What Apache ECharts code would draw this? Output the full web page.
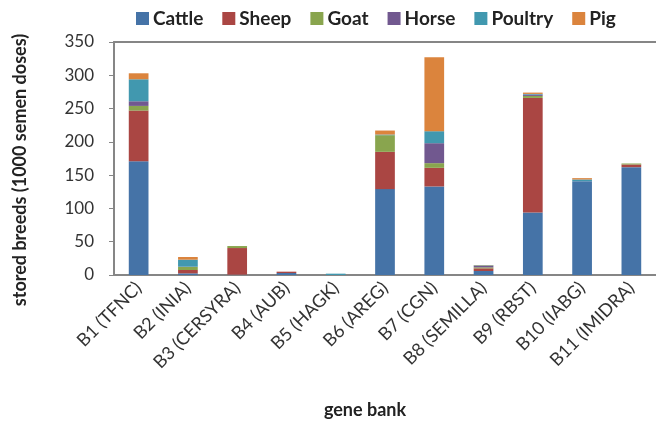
<!DOCTYPE html>
<html>
<head>
<meta charset="utf-8">
<title>stored breeds per gene bank</title>
<script src="https://cdn.jsdelivr.net/npm/echarts@6/dist/echarts.min.js"></script>
<style>
  html, body { margin: 0; padding: 0; background: #fff; }
  #chart { width: 656px; height: 423px; }
</style>
</head>
<body>
<div id="chart"></div>
<script>
// gene banks (x axis)
const banks = ['B1 (TFNC)', 'B2 (INIA)', 'B3 (CERSYRA)', 'B4 (AUB)', 'B5 (HAGK)', 'B6 (AREG)',
  'B7 (CGN)', 'B8 (SEMILLA)', 'B9 (RBST)', 'B10 (IABG)', 'B11 (IMIDRA)'];

// stored doses per species, 1000 semen doses
const cattle  = [171, 2.5, 0.5, 3, 0, 129, 133, 6, 94, 141, 162];
const sheep   = [76, 5, 40, 2, 0, 56, 28, 4, 172, 0, 4];
const goat    = [7, 4.5, 3, 0, 0, 25, 7, 1.5, 3, 0, 1.5];
const horse   = [7, 0.5, 0, 0, 0, 0, 30, 2, 2, 0, 0];
const poultry = [33, 10.5, 0, 0, 2, 1, 18, 1, 1, 2.5, 0];
const pig     = [9, 4, 0, 0, 0, 6, 111, 0.5, 2, 2, 0];

const yTicks = [0, 50, 100, 150, 200, 250, 300, 350];

const species = [
  { name: 'Cattle', data: cattle, color: '#4573a7' },
  { name: 'Sheep', data: sheep, color: '#aa4643' },
  { name: 'Goat', data: goat, color: '#89a54e' },
  { name: 'Horse', data: horse, color: '#71588f' },
  { name: 'Poultry', data: poultry, color: '#4198af' },
  { name: 'Pig', data: pig, color: '#db843d' },
];

const font = 'Lato';
const chart = echarts.init(document.getElementById('chart'), null, { renderer: 'canvas' });

const option = {
  animation: false,
  textStyle: { fontFamily: font },
  legend: {
    left: 131,
    top: 4,
    itemWidth: 13,
    itemHeight: 13,
    itemGap: 19,
    icon: 'rect',
    textStyle: { fontFamily: font, fontSize: 19, fontWeight: 'bold', color: '#222', padding: [0, 0, 0, -1] },
    data: species.map(s => s.name),
  },
  grid: { left: 114, right: -9, top: 42, bottom: 148, containLabel: false },
  xAxis: [
    {
      type: 'category',
      data: banks,
      axisLine: { lineStyle: { color: '#868686', width: 2 } },
      axisTick: { show: false },
      axisLabel: { rotate: 45, fontSize: 18, color: '#333', fontFamily: font, margin: 10, interval: 0 },
    },
    {
      // top frame line at 350
      type: 'category',
      data: banks,
      position: 'top',
      axisLine: { lineStyle: { color: '#868686', width: 2 } },
      axisTick: { show: false },
      axisLabel: { show: false },
    },
  ],
  yAxis: {
    type: 'value',
    min: yTicks[0],
    max: yTicks[yTicks.length - 1],
    interval: 50,
    axisLine: { show: true, lineStyle: { color: '#868686', width: 2 } },
    axisTick: { show: true, length: 5, lineStyle: { color: '#868686', width: 1 } },
    splitLine: { show: false },
    axisLabel: { fontSize: 17, color: '#333', fontFamily: font, margin: 20 },
  },
  graphic: [
    {
      type: 'text',
      x: 365,
      y: 410,
      style: {
        text: 'gene bank',
        font: 'bold 18px Lato',
        fill: '#222',
        align: 'center',
        verticalAlign: 'middle',
      },
    },
    {
      type: 'text',
      x: 20,
      y: 170,
      rotation: Math.PI / 2,
      style: {
        text: 'stored breeds (1000 semen doses)',
        font: 'bold 18px Lato',
        fill: '#222',
        align: 'center',
        verticalAlign: 'middle',
      },
    },
  ],
  series: species.map(s => ({
    name: s.name,
    type: 'bar',
    stack: 'total',
    barWidth: '40%',
    data: s.data,
    itemStyle: { color: s.color },
  })),
};

chart.setOption(option);
</script>
</body>
</html>
